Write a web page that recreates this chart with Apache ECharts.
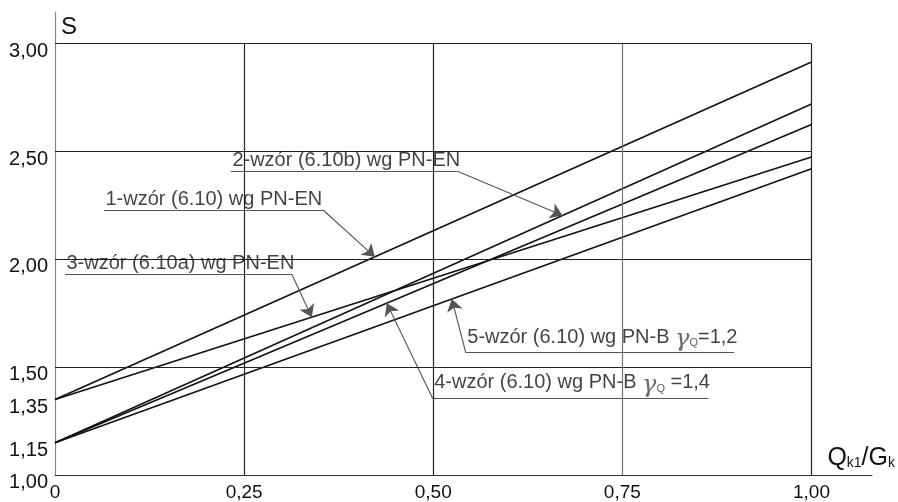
<!DOCTYPE html>
<html>
<head>
<meta charset="utf-8">
<script src="https://cdn.jsdelivr.net/npm/echarts@6/dist/echarts.min.js"></script>
<style>
html,body{margin:0;padding:0;background:#fff;}
#chart{width:898px;height:502px;}
</style>
</head>
<body>
<div id="chart"></div>
<script>
// ---- data ----
const xPoints = [0, 1.00];
const line1 = [1.35, 2.915]; // 1 - wzór (6.10) PN-EN
const line2 = [1.15, 2.72];  // 2 - wzór (6.10b) PN-EN
const line3 = [1.35, 2.475]; // 3 - wzór (6.10a) PN-EN
const line4 = [1.15, 2.625]; // 4 - wzór (6.10) PN-B γQ=1,4
const line5 = [1.15, 2.42];  // 5 - wzór (6.10) PN-B γQ=1,2
const seriesLines = [line1, line2, line3, line4, line5];

const xTicks = [0, 0.25, 0.5, 0.75, 1.0];
const yTicks = [1.0, 1.15, 1.35, 1.5, 2.0, 2.5, 3.0];
const xGrid = [0.25, 0.5, 0.75, 1.0];
const yGrid = [1.5, 2.0, 2.5, 3.0];

// annotations (leader labels)
const annTexts = [
  '{t|1-wzór (6.10) wg PN-EN}',
  '{t|2-wzór (6.10b) wg PN-EN}',
  '{t|3-wzór (6.10a) wg PN-EN}',
  '{t|4-wzór (6.10) wg PN-B }{g|γ}{s|Q}{t| =1,4}',
  '{t|5-wzór (6.10) wg PN-B }{g|γ}{s|Q}{t|=1,2}'
];
const annLevel  = [2.230, 2.408, 1.931, 1.355, 1.567];
const annStartX = [0.0647, 0.2325, 0.0132, 0.4993, 0.543];
const annEndX   = [0.354, 0.532, 0.313, 0.864, 0.898];
const annTipX   = [0.4227, 0.671, 0.3395, 0.4386, 0.5245];
const annArrowFromStart = [false, false, false, true, true];

// ---- build ----
const fmt = v => v === 0 ? '0' : v.toFixed(2).replace('.', ',');
function lineAt(line, x) {
  return line[0] + (line[1] - line[0]) * (x - xPoints[0]) / (xPoints[1] - xPoints[0]);
}

const gridData = [];
yGrid.forEach(v => gridData.push([{coord: [0, v]}, {coord: [1, v]}]));
xGrid.forEach(v => gridData.push([{coord: [v, 1], lineStyle: v === 0.75 ? {color: '#777'} : {}}, {coord: [v, 3]}]));

const series = [];
seriesLines.forEach((line, i) => {
  series.push({
    type: 'line',
    name: 'S' + (i + 1),
    data: xPoints.map((x, j) => [x, line[j]]),
    showSymbol: false,
    silent: true,
    lineStyle: {color: '#111', width: 1.6},
    z: 3,
    markLine: i === 0 ? {
      silent: true,
      symbol: ['none', 'none'],
      label: {show: false},
      lineStyle: {color: '#222', width: 1.2, type: 'solid'},
      data: gridData,
      animation: false
    } : undefined
  });
});

const underlineData = [];
const arrowData = [];
annTexts.forEach((t, i) => {
  const tipY = lineAt(seriesLines[i], annTipX[i]);
  const y = annLevel[i];
  underlineData.push({coords: [[annStartX[i], y], [annEndX[i], y]]});
  const from = annArrowFromStart[i] ? annStartX[i] : annEndX[i];
  arrowData.push({coords: [[from, y], [annTipX[i], tipY]]});
});
series.push({
  type: 'lines',
  coordinateSystem: 'cartesian2d',
  silent: true,
  symbol: ['none', 'none'],
  lineStyle: {color: '#555', width: 1.1, opacity: 1},
  data: underlineData,
  z: 4
});
series.push({
  type: 'lines',
  coordinateSystem: 'cartesian2d',
  silent: true,
  symbol: ['none', 'arrow'],
  symbolSize: [5, 12],
  lineStyle: {color: '#555', width: 1.1, opacity: 1},
  data: arrowData,
  z: 4
});

const richStyle = {
  t: {fontFamily: 'Liberation Sans', fontSize: 20, color: '#111'},
  g: {fontFamily: 'DejaVu Serif', fontSize: 24, fontStyle: 'italic', color: '#444', padding: [6, 0, 0, 0]},
  s: {fontFamily: 'Liberation Sans', fontSize: 11, color: '#333', padding: [12, 0, 0, 0]}
};
series.push({
  type: 'scatter',
  silent: true,
  symbolSize: 1,
  itemStyle: {color: 'transparent'},
  data: annTexts.map((t, i) => ({
    value: [annStartX[i], annLevel[i]],
    label: {
      show: true,
      formatter: t,
      position: [2, 0],
      align: 'left',
      verticalAlign: 'bottom',
      rich: richStyle
    }
  })),
  z: 5
});

const chart = echarts.init(document.getElementById('chart'));
chart.setOption({
  animation: false,
  backgroundColor: '#fff',
  grid: {left: 55, right: 25, top: 12, bottom: 24},
  xAxis: {
    type: 'value',
    min: 0,
    max: 1.08,
    name: '{q|Q}{sub|k1}{q|/G}{sub|k}',
    nameLocation: 'end',
    nameGap: 23,
    nameTextStyle: {
      align: 'right',
      verticalAlign: 'bottom',
      padding: [0, 0, 4, 0],
      rich: {
        q: {fontFamily: 'Liberation Sans', fontSize: 25, color: '#111'},
        sub: {fontFamily: 'Liberation Sans', fontSize: 14, color: '#111', padding: [10, 0, 0, 0]}
      }
    },
    axisLine: {show: true, lineStyle: {color: '#333', width: 1.2}},
    axisTick: {show: false},
    splitLine: {show: false},
    axisLabel: {
      customValues: xTicks,
      formatter: fmt,
      fontFamily: 'Liberation Sans',
      fontSize: 19,
      color: '#111',
      margin: 8
    }
  },
  yAxis: {
    type: 'value',
    min: 1,
    max: 3.147,
    name: 'S',
    nameLocation: 'end',
    nameGap: -3,
    nameTextStyle: {
      fontFamily: 'Liberation Sans',
      fontSize: 24,
      color: '#111',
      align: 'left',
      verticalAlign: 'top',
      padding: [0, 0, 0, 6]
    },
    axisLine: {show: true, lineStyle: {color: '#888', width: 1.2}},
    axisTick: {show: false},
    splitLine: {show: false},
    axisLabel: {
      customValues: yTicks,
      formatter: fmt,
      fontFamily: 'Liberation Sans',
      fontSize: 20,
      lineHeight: 15,
      color: '#111',
      margin: 7,
      verticalAlign: 'top'
    }
  },
  series: series
});
</script>
</body>
</html>
